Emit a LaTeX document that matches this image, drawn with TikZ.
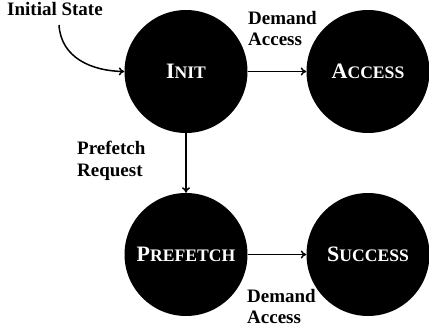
\documentclass[tikz,border=0pt]{standalone}
\usepackage{fontspec}
\setmainfont{Liberation Serif}
\usetikzlibrary{arrows.meta}
\newcommand\scname[2]{{\fontsize{22}{26}\selectfont #1\fontsize{17.6}{20}\selectfont #2}}
\begin{document}
\begin{tikzpicture}[x=1pt,y=-1pt,
  state/.style={circle,fill=black,text=white,minimum size=123pt,inner sep=0pt,font=\bfseries},
  lbl/.style={font=\fontsize{19}{21.5}\selectfont\bfseries,align=left,inner sep=0pt,anchor=north west},
  edge/.style={line width=1.5pt,-{To[length=5.5pt,width=8pt]}}]
\useasboundingbox (0,0) rectangle (429,332);
\node[state] (init) at (186,71.5) {\scname{I}{NIT}};
\node[state] (access) at (368,71.5) {\scname{A}{CCESS}};
\node[state] (prefetch) at (186,254.5) {\scname{P}{REFETCH}};
\node[state] (success) at (368,254.5) {\scname{S}{UCCESS}};
\node[lbl] (initlbl) at (7,2) {Initial State};
\coordinate (start) at (59,25);
\draw[edge] (start) .. controls (61,58) and (92,71) .. (init.west);
\draw[edge] (init) -- (access);
\draw[edge] (init) -- (prefetch);
\draw[edge] (prefetch) -- (success);
\node[lbl] (l1) at (248,11) {Demand\\Access};
\node[lbl] (l2) at (77,141) {Prefetch\\Request};
\node[lbl] (l3) at (247,289) {Demand\\Access};
\end{tikzpicture}
\end{document}
